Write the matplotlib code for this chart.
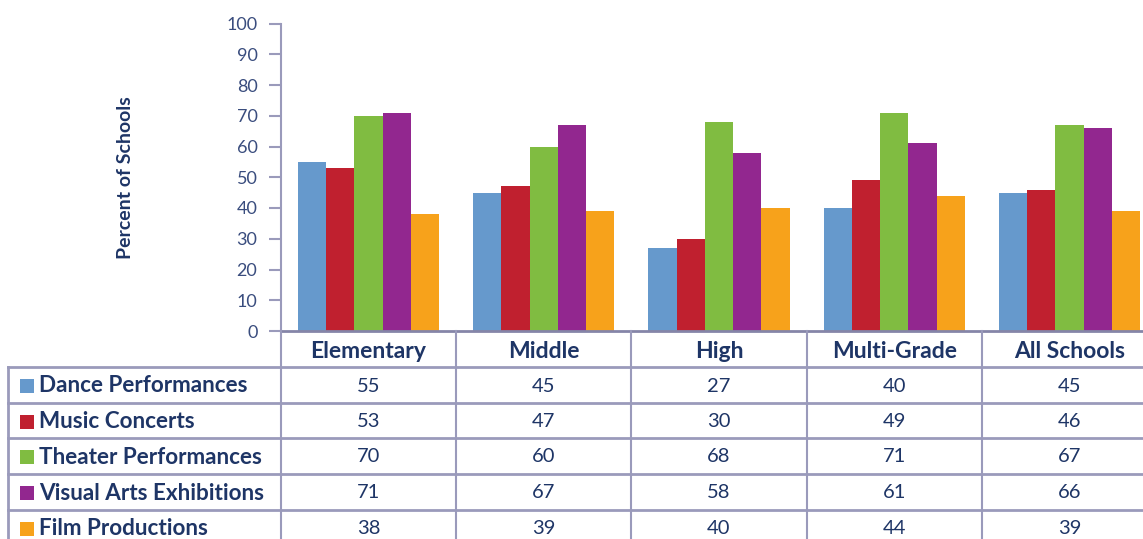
import matplotlib
matplotlib.use("Agg")
import matplotlib.pyplot as plt
import matplotlib.transforms as mtransforms
from matplotlib.lines import Line2D
from matplotlib.patches import Rectangle
import numpy as np

categories = ["Elementary", "Middle", "High", "Multi-Grade", "All Schools"]
series_names = ["Dance Performances", "Music Concerts", "Theater Performances",
                "Visual Arts Exhibitions", "Film Productions"]
dance = [55, 45, 27, 40, 45]
music = [53, 47, 30, 49, 46]
theater = [70, 60, 68, 71, 67]
visual = [71, 67, 58, 61, 66]
film = [38, 39, 40, 44, 39]
colors = ["#6699cc", "#c0202f", "#80bc41", "#92278f", "#f7a21b"]
yticks = [0, 10, 20, 30, 40, 50, 60, 70, 80, 90, 100]
ylabel = "Percent of Schools"

series = [dance, music, theater, visual, film]

W, H = 1143, 539
navy = "#1e3566"
tickc = "#3a4d7e"
gridc = "#9a9abb"
axc = "#8585a8"

plt.rcParams['font.family'] = ['Lato', 'DejaVu Sans']
HEAVY = "bold"

fig = plt.figure(figsize=(W / 100, H / 100), dpi=100)
x_left, x_right = 281, 1157
y_top, y_zero = 23.5, 331
ax = fig.add_axes([x_left / W, 1 - y_zero / H, (x_right - x_left) / W, (y_zero - y_top) / H])

x = np.arange(len(categories))
bw = 0.161
for i, (vals, c) in enumerate(zip(series, colors)):
    ax.bar(x + (i - 2) * bw, vals, width=bw, color=c, linewidth=0, zorder=2)

ax.set_xlim(-0.5, len(categories) - 0.5)
ax.set_ylim(0, 100)
ax.set_yticks(yticks)
ax.set_yticklabels([str(t) for t in yticks], fontsize=13, color=tickc)
ax.set_xticks([])
for s in ["top", "right"]:
    ax.spines[s].set_visible(False)
ax.spines["left"].set_color(gridc)
ax.spines["left"].set_linewidth(1.5)
ax.spines["bottom"].set_color(axc)
ax.spines["bottom"].set_linewidth(2)
ax.tick_params(axis="y", length=9, width=1.5, color=gridc, pad=8)
ax.set_ylabel(ylabel, fontsize=14, fontweight=HEAVY, color=navy, labelpad=0)
ax.yaxis.set_label_coords(-(x_left - 134) / (x_right - x_left), 0.5)

# table
def fy(py):
    return 1 - py / H

blend = mtransforms.blended_transform_factory(ax.transData, fig.transFigure)
row_lines = [367, 402.5, 438, 474, 510]
for ry in row_lines:
    fig.add_artist(Line2D([8 / W, 1.0], [fy(ry), fy(ry)], color=gridc, lw=2, transform=fig.transFigure))
# left border
fig.add_artist(Line2D([8 / W, 8 / W], [fy(367), 0], color=gridc, lw=2, transform=fig.transFigure))
# column borders
for b in np.arange(len(categories) + 1) - 0.5:
    fig.add_artist(Line2D([b, b], [fy(331), 0], color=gridc, lw=1.5, transform=blend, clip_on=False))

for j, cat in enumerate(categories):
    fig.text(j, fy(351), cat, transform=blend, ha="center", va="center",
             fontsize=16.5, fontweight=HEAVY, color=navy)

row_centers = [386, 421.5, 457, 493, 528.5]
for i, (name, vals, c) in enumerate(zip(series_names, series, colors)):
    cy = row_centers[i]
    fig.add_artist(Rectangle((20 / W, fy(cy + 7)), 14 / W, 14 / H, facecolor=c,
                             edgecolor="none", transform=fig.transFigure))
    fig.text(39 / W, fy(cy), name, ha="left", va="center", fontsize=16.2,
             fontweight=HEAVY, color=navy)
    for j, v in enumerate(vals):
        fig.text(j, fy(cy), str(v), transform=blend, ha="center", va="center",
                 fontsize=14.5, color=navy)

fig.savefig("out.png", dpi=100)
